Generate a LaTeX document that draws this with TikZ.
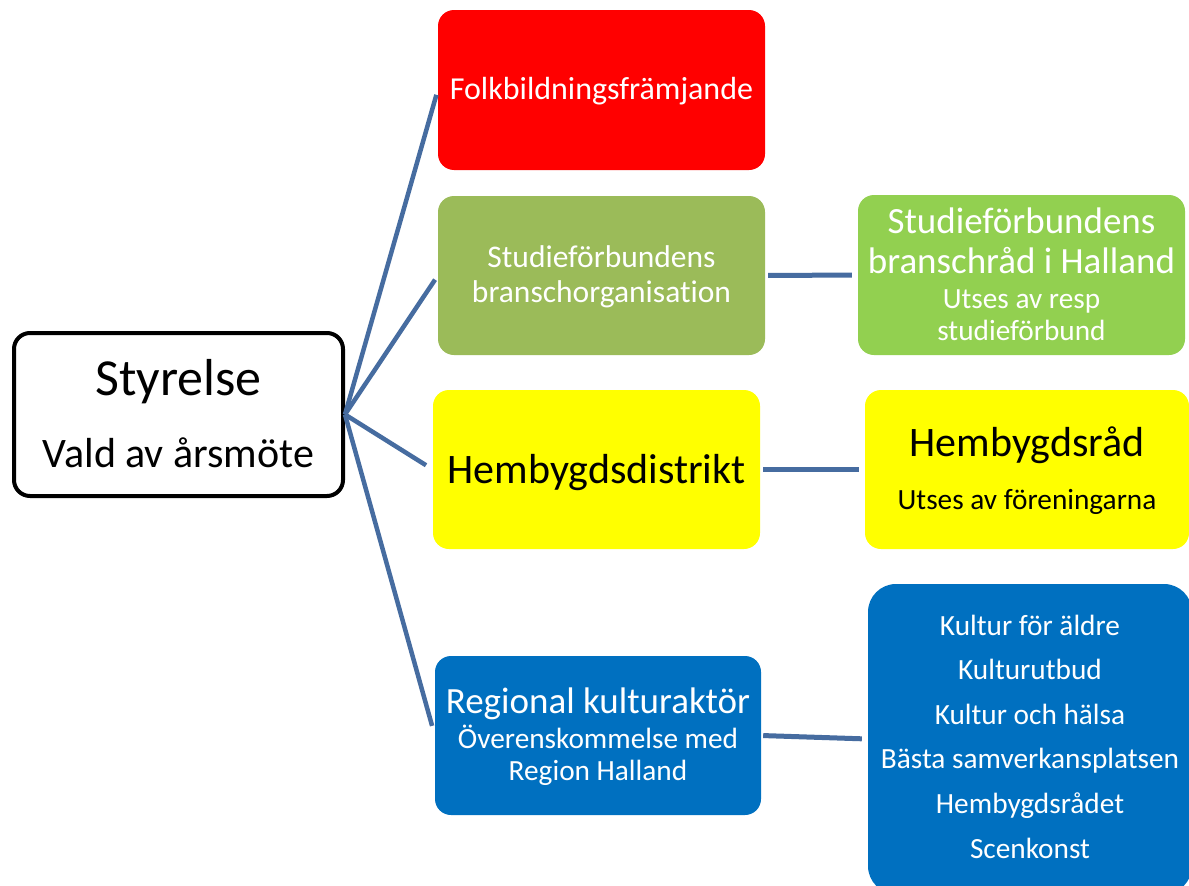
\documentclass[tikz,border=0pt]{standalone}
\usepackage{fontspec}
\setmainfont{Carlito}[Ligatures=NoCommon]
\definecolor{boxred}{HTML}{FF0000}
\definecolor{boxolive}{HTML}{9BBB59}
\definecolor{boxgreen}{HTML}{92D050}
\definecolor{boxyellow}{HTML}{FFFF00}
\definecolor{boxblue}{HTML}{0070C0}
\definecolor{lineblue}{RGB}{70,108,160}
\begin{document}
\begin{tikzpicture}[x=1pt,y=-1pt,
  box/.style={rounded corners=16pt, inner sep=0pt, draw=none},
  spoke/.style={draw=lineblue, line width=4.5pt},
  link/.style={draw=lineblue, line width=5pt},
  txt/.style={anchor=base, inner sep=0pt},
  big/.style={font=\fontsize{37}{44}\selectfont},
  mid/.style={font=\fontsize{32}{38}\selectfont},
  small/.style={font=\fontsize{29.3}{35}\selectfont}]
\clip (0,0) rectangle (1189,886);
\fill[white] (0,0) rectangle (1189,886);
% boxes
\node[box, draw=black, line width=4pt, fill=white, minimum width=329pt, minimum height=163pt] (sty) at (178.5,414.5) {};
\node[box, fill=boxred, minimum width=327pt, minimum height=160pt] (red) at (601.5,90) {};
\node[box, fill=boxolive, minimum width=327pt, minimum height=159pt] (olive) at (601.5,275.5) {};
\node[box, fill=boxgreen, minimum width=327pt, minimum height=160pt] (green) at (1021.5,275) {};
\node[box, fill=boxyellow, minimum width=327pt, minimum height=159pt] (yel) at (596.5,469.5) {};
\node[box, fill=boxyellow, minimum width=324pt, minimum height=159pt] (yel2) at (1027,469.5) {};
\node[box, fill=boxblue, minimum width=326pt, minimum height=159pt] (blue) at (598,735.5) {};
\node[box, rounded corners=28pt, fill=boxblue, minimum width=324pt, minimum height=310pt] (blue2) at (1030,739) {};
% connectors
\draw[spoke, shorten >=5pt] (sty.east) -- (red.west);
\draw[spoke, shorten >=5pt] (sty.east) -- (olive.west);
\draw[spoke, shorten >=8pt] (sty.east) -- (yel.west);
\draw[spoke, shorten >=10pt] (sty.east) -- (blue.west);
\draw[link, shorten <=3pt, shorten >=6pt] (olive.east) -- (green.west);
\draw[link, shorten <=3pt, shorten >=6pt] (yel.east) -- (yel2.west);
\draw[link, shorten <=2pt, shorten >=6pt] (blue.east) -- (blue2.west);
% texts
\node[txt, font=\fontsize{52}{60}\selectfont] (styA) at (178.5,395) {Styrelse};
\node[txt, font=\fontsize{42}{50}\selectfont] (styB) at (178.5,467) {Vald av årsmöte};
\node[txt, mid, text=white] (redA) at (601.5,99) {Folkbildningsfrämjande};
\node[txt, font=\fontsize{31.5}{38}\selectfont, text=white] (oliveA) at (601.5,267) {Studieförbundens};
\node[txt, font=\fontsize{31.5}{38}\selectfont, text=white] (oliveB) at (601.5,302) {branschorganisation};
\node[txt, big, text=white] (greenA) at (1021.5,233) {Studieförbundens};
\node[txt, big, text=white] (greenB) at (1021.5,273) {branschråd i Halland};
\node[txt, small, text=white] (greenC) at (1021.5,308) {Utses av resp};
\node[txt, small, text=white] (greenD) at (1021.5,340) {studieförbund};
\node[txt, font=\fontsize{42}{50}\selectfont] (yelA) at (596.5,483) {Hembygdsdistrikt};
\node[txt, font=\fontsize{42}{50}\selectfont] (yel2A) at (1027,456) {Hembygdsråd};
\node[txt, small] (yel2B) at (1027,509) {Utses av föreningarna};
\node[txt, big, text=white] (blueA) at (598,713) {Regional kulturaktör};
\node[txt, small, text=white] (blueB) at (598,748) {Överenskommelse med};
\node[txt, small, text=white] (blueC) at (598,780) {Region Halland};
\node[txt, small, text=white] (b2a) at (1030,635) {Kultur för äldre};
\node[txt, small, text=white] (b2b) at (1030,679.6) {Kulturutbud};
\node[txt, small, text=white] (b2c) at (1030,724.2) {Kultur och hälsa};
\node[txt, small, text=white] (b2d) at (1030,768.8) {Bästa samverkansplatsen};
\node[txt, small, text=white] (b2e) at (1030,813.4) {Hembygdsrådet};
\node[txt, small, text=white] (b2f) at (1030,858) {Scenkonst};
\end{tikzpicture}
\end{document}
